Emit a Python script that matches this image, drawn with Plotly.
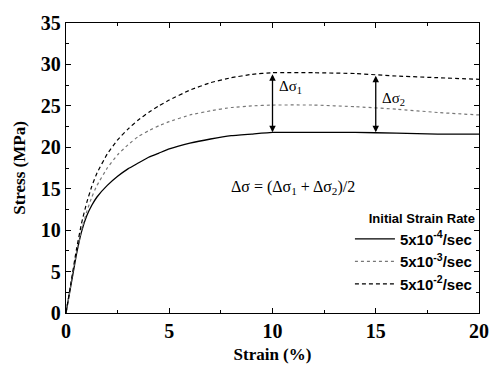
import plotly.graph_objects as go

strain_slow = [0, 0.25, 0.5, 0.75, 1.0, 1.25, 1.5, 2, 2.5, 3, 3.5, 4, 4.5, 5, 6, 7, 8, 9, 10, 12, 14, 16, 18, 20]
stress_slow = [0, 3.5, 7, 9.8, 11.7, 13.0, 14.0, 15.4, 16.5, 17.4, 18.1, 18.8, 19.3, 19.8, 20.5, 21.0, 21.4, 21.6, 21.8, 21.8, 21.8, 21.7, 21.6, 21.6]

strain_mid = [0, 0.25, 0.5, 0.75, 1.0, 1.25, 1.5, 2, 2.5, 3, 3.5, 4, 4.5, 5, 6, 7, 8, 9, 10, 12, 14, 16, 18, 20]
stress_mid = [0, 3.6, 7.2, 10, 12.2, 14, 15.4, 17.5, 19.1, 20.3, 21.3, 22.0, 22.6, 23.1, 23.9, 24.4, 24.8, 25.0, 25.1, 25.1, 24.9, 24.6, 24.2, 23.9]

strain_fast = [0, 0.25, 0.5, 0.75, 1.0, 1.25, 1.5, 2, 2.5, 3, 3.5, 4, 4.5, 5, 6, 7, 8, 9, 10, 12, 14, 16, 18, 20]
stress_fast = [0, 3.8, 7.6, 10.8, 13.3, 15.3, 16.9, 19.2, 20.9, 22.2, 23.3, 24.2, 25.0, 25.7, 26.9, 27.8, 28.4, 28.8, 29.0, 29.0, 28.9, 28.6, 28.4, 28.2]

series_names = ["<b>5x10<sup>-4</sup>/sec</b>", "<b>5x10<sup>-3</sup>/sec</b>", "<b>5x10<sup>-2</sup>/sec</b>"]

arrow_x = [10, 15]
arrow_top = [29.0, 28.8]
arrow_bottom = [21.8, 21.8]

fig = go.Figure()
fig.add_trace(go.Scatter(x=strain_slow, y=stress_slow, mode="lines", name=series_names[0],
                         line=dict(color="black", width=1.3, shape="spline", smoothing=0.3)))
fig.add_trace(go.Scatter(x=strain_mid, y=stress_mid, mode="lines", name=series_names[1],
                         line=dict(color="#777777", width=1.2, dash="dot", shape="spline", smoothing=0.3)))
fig.add_trace(go.Scatter(x=strain_fast, y=stress_fast, mode="lines", name=series_names[2],
                         line=dict(color="black", width=1.2, dash="4px,3px", shape="spline", smoothing=0.3)))

for xv, yt, yb in zip(arrow_x, arrow_top, arrow_bottom):
    fig.add_annotation(x=xv, y=yb, ax=xv, ay=yt, xref="x", yref="y", axref="x", ayref="y",
                       showarrow=True, arrowhead=2, startarrowhead=2, arrowside="end+start",
                       arrowsize=1, arrowwidth=1.3, arrowcolor="black", text="")

serif = "Times New Roman, Liberation Serif, serif"
ann_font = dict(family=serif, size=15, color="black")
fig.add_annotation(x=10.2, y=27.3, xref="x", yref="y", text="Δσ<sub>1</sub>", showarrow=False,
                   xanchor="left", font=ann_font)
fig.add_annotation(x=15.2, y=25.8, xref="x", yref="y", text="Δσ<sub>2</sub>", showarrow=False,
                   xanchor="left", font=ann_font)
fig.add_annotation(x=11.0, y=15.2, xref="x", yref="y",
                   text="Δσ = (Δσ<sub>1</sub> + Δσ<sub>2</sub>)/2", showarrow=False,
                   font=dict(family=serif, size=16, color="black"))

tick_font = dict(family=serif, size=20, color="black")
axis_common = dict(showgrid=False, zeroline=False, showline=True, linecolor="black", linewidth=1.3,
                   mirror="ticks", ticks="inside", ticklen=5, tickwidth=1.2, tickcolor="black",
                   tickfont=tick_font, tickprefix="<b>", ticksuffix="</b>")

fig.update_layout(
    width=501, height=372,
    margin=dict(l=66, r=18, t=13, b=56),
    paper_bgcolor="white", plot_bgcolor="white",
    xaxis=dict(range=[0, 20], dtick=5, tick0=0,
               minor=dict(dtick=2.5, ticks="inside", ticklen=3, tickcolor="black"),
               title=dict(text="<b>Strain (%)</b>", standoff=6,
                          font=dict(family=serif, size=17, color="black")),
               **axis_common),
    yaxis=dict(range=[0, 35], dtick=5, tick0=0,
               minor=dict(dtick=2.5, ticks="inside", ticklen=3, tickcolor="black"),
               title=dict(text="<b>Stress (MPa)</b>", standoff=10,
                          font=dict(family=serif, size=17, color="black")),
               **axis_common),
    legend=dict(x=0.995, y=0.37, xanchor="right", yanchor="top",
                bgcolor="rgba(0,0,0,0)", borderwidth=0, itemwidth=40,
                title=dict(text="<b>Initial Strain Rate</b>", side="top right",
                           font=dict(family="Arial, Liberation Sans, sans-serif", size=13, color="black")),
                font=dict(family="Arial, Liberation Sans, sans-serif", size=15, color="black"),
                tracegroupgap=0),
    showlegend=True,
)

fig.write_html("out.html")
